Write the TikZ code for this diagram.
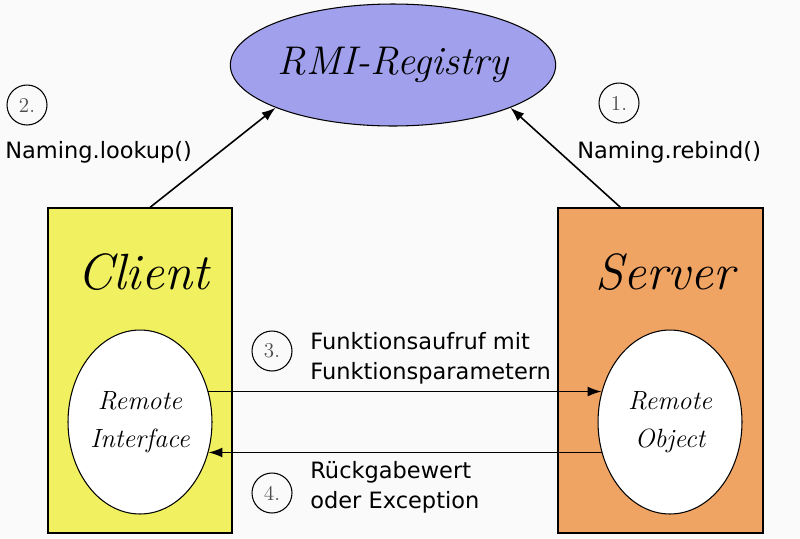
\documentclass[tikz,border=0pt]{standalone}
\usepackage{fontspec}
\newfontfamily\callfont{DejaVu Sans}
\usetikzlibrary{shapes,arrows,arrows.meta,positioning}
\usepackage{xcolor}

\definecolor{regblue}{RGB}{160,160,236}
\definecolor{cliyellow}{RGB}{240,240,96}
\definecolor{srvorange}{RGB}{240,164,100}
\definecolor{bggray}{RGB}{250,250,250}

\tikzset{
  registry/.style={ellipse, draw, line width=0.6pt, fill=regblue, inner sep=0pt,
    minimum width=64.8mm, minimum height=24.4mm,
    font={\fontsize{22.8}{26}\selectfont\itshape}},
  hostbox/.style={rectangle, draw, line width=0.7pt, minimum height=65mm, inner sep=0pt},
  hosttitle/.style={font={\fontsize{29}{32}\selectfont\itshape}},
  remote/.style={ellipse, draw, line width=0.6pt, fill=white, inner sep=0pt,
    minimum width=28.8mm, minimum height=36.8mm, align=center,
    font={\fontsize{15}{21.5}\selectfont\itshape}},
  stepnum/.style={circle, draw, line width=0.6pt, minimum size=8mm, inner sep=0pt,
    text=black!70, font={\fontsize{12}{14}\selectfont}},
  call/.style={anchor=west, inner sep=0pt, align=left,
    font={\callfont\fontsize{12.8}{17}\selectfont}},
  link/.style={-{Latex[length=2.8mm,width=2mm]}, line width=0.9pt}
}

\begin{document}
\begin{tikzpicture}[x=0.02cm, y=-0.02cm]
  % background and size of the picture
  \fill[bggray] (0,0) rectangle (800,538);
  \useasboundingbox (0,0) rectangle (800,538);

  % Draw the registry ellipse
  \node[registry] (reg) at (393,65) {RMI-Registry};

  % Draw the client and server boxes and label them
  \node[hostbox, fill=cliyellow, minimum width=36.8mm] (cli) at (140,370.5) {};
  \node[hostbox, fill=srvorange, minimum width=41mm] (srv) at (660.5,370.5) {};
  \node[hosttitle] (clititle) at (143,272) {Client};
  \node[hosttitle] (srvtitle) at (665,272) {Server};

  % Draw the remote parts inside the boxes
  \node[remote] (cliell) at (140,422) {Remote\\Interface};
  \node[remote] (srvell) at (670,422) {Remote\\Object};

  % Number the steps
  \node[stepnum] (num1) at (619,103) {1.};
  \node[stepnum] (num2) at (27,105) {2.};
  \node[stepnum] (num3) at (272,351) {3.};
  \node[stepnum] (num4) at (272,493) {4.};

  % Label the calls
  \node[call] (call1) at (577,152) {Naming.rebind()};
  \node[call] (call2) at (5,152) {Naming.lookup()};
  \node[call] (call3) at (310,358) {Funktionsaufruf mit\\Funktionsparametern};
  \node[call] (call4) at (310,487) {Rückgabewert\\oder Exception};

  % Draw the arrows
  \draw[link] ([xshift=-8mm]srv.north) -- (reg.340);
  \draw[link] ([xshift=2mm]cli.north) -- (reg.200);
  \draw[link] (cliell.24) -- (srvell.156);
  \draw[link] (srvell.204) -- (cliell.-24);
\end{tikzpicture}
\end{document}
